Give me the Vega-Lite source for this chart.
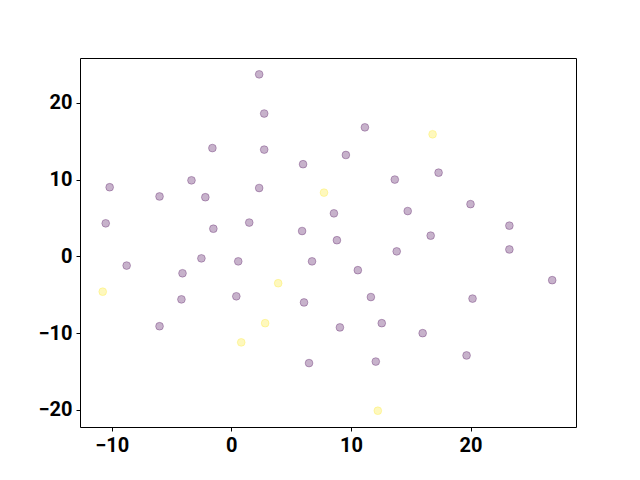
{
  "$schema": "https://vega.github.io/schema/vega-lite/v6.json",
  "width": 496,
  "height": 369,
  "autosize": {"type": "none"},
  "padding": {"left": 80, "top": 58, "right": 64, "bottom": 53},
  "background": "white",
  "config": {
    "view": {"stroke": "black", "strokeWidth": 1},
    "axis": {
      "grid": false,
      "domain": false,
      "tickColor": "black",
      "tickSize": 4,
      "tickWidth": 1,
      "labelFont": "Roboto",
      "labelFontWeight": "bold",
      "labelFontSize": 20,
      "labelColor": "black",
      "labelPadding": 4,
      "title": null
    }
  },
  "data": {
    "values": [
      {"x": 2.33, "y": 23.7, "c": 0},
      {"x": 2.75, "y": 18.6, "c": 0},
      {"x": 11.17, "y": 16.8, "c": 0},
      {"x": -1.58, "y": 14.1, "c": 0},
      {"x": 2.75, "y": 13.9, "c": 0},
      {"x": 9.58, "y": 13.2, "c": 0},
      {"x": 6.0, "y": 12.0, "c": 0},
      {"x": 17.33, "y": 10.9, "c": 0},
      {"x": -3.33, "y": 9.9, "c": 0},
      {"x": 13.67, "y": 10.0, "c": 0},
      {"x": -10.17, "y": 9.0, "c": 0},
      {"x": 2.33, "y": 8.9, "c": 0},
      {"x": -6.0, "y": 7.8, "c": 0},
      {"x": -2.17, "y": 7.7, "c": 0},
      {"x": 20.0, "y": 6.8, "c": 0},
      {"x": 14.75, "y": 5.9, "c": 0},
      {"x": 8.58, "y": 5.6, "c": 0},
      {"x": 1.5, "y": 4.4, "c": 0},
      {"x": -10.5, "y": 4.3, "c": 0},
      {"x": 23.25, "y": 4.0, "c": 0},
      {"x": -1.5, "y": 3.6, "c": 0},
      {"x": 5.92, "y": 3.3, "c": 0},
      {"x": 16.67, "y": 2.7, "c": 0},
      {"x": 8.83, "y": 2.1, "c": 0},
      {"x": 23.25, "y": 0.9, "c": 0},
      {"x": 13.83, "y": 0.65, "c": 0},
      {"x": -2.5, "y": -0.26, "c": 0},
      {"x": 0.58, "y": -0.65, "c": 0},
      {"x": 6.75, "y": -0.65, "c": 0},
      {"x": -8.75, "y": -1.2, "c": 0},
      {"x": 10.58, "y": -1.8, "c": 0},
      {"x": -4.08, "y": -2.2, "c": 0},
      {"x": 26.83, "y": -3.1, "c": 0},
      {"x": 0.42, "y": -5.2, "c": 0},
      {"x": 11.67, "y": -5.3, "c": 0},
      {"x": -4.17, "y": -5.6, "c": 0},
      {"x": 20.17, "y": -5.5, "c": 0},
      {"x": 6.08, "y": -6.0, "c": 0},
      {"x": 12.58, "y": -8.7, "c": 0},
      {"x": -6.0, "y": -9.1, "c": 0},
      {"x": 9.08, "y": -9.25, "c": 0},
      {"x": 16.0, "y": -10.0, "c": 0},
      {"x": 19.67, "y": -12.9, "c": 0},
      {"x": 12.08, "y": -13.7, "c": 0},
      {"x": 6.5, "y": -13.9, "c": 0},
      {"x": 16.83, "y": 15.9, "c": 1},
      {"x": 7.75, "y": 8.3, "c": 1},
      {"x": 3.92, "y": -3.5, "c": 1},
      {"x": -10.75, "y": -4.6, "c": 1},
      {"x": 2.83, "y": -8.7, "c": 1},
      {"x": 0.83, "y": -11.2, "c": 1},
      {"x": 12.25, "y": -20.1, "c": 1}
    ]
  },
  "mark": {"type": "point", "filled": false, "shape": "circle", "size": 60, "strokeWidth": 1, "fillOpacity": 0.3, "strokeOpacity": 0.3},
  "encoding": {
    "x": {"field": "x", "type": "quantitative", "scale": {"domain": [-12.65, 28.82], "nice": false, "zero": false}, "axis": {"values": [-10, 0, 10, 20]}},
    "y": {"field": "y", "type": "quantitative", "scale": {"domain": [-22.22, 25.83], "nice": false, "zero": false}, "axis": {"values": [-20, -10, 0, 10, 20]}},
    "fill": {"field": "c", "type": "nominal", "scale": {"domain": [0, 1], "range": ["#440154", "#fde725"]}, "legend": null},
    "stroke": {"field": "c", "type": "nominal", "scale": {"domain": [0, 1], "range": ["#440154", "#fde725"]}, "legend": null}
  }
}
